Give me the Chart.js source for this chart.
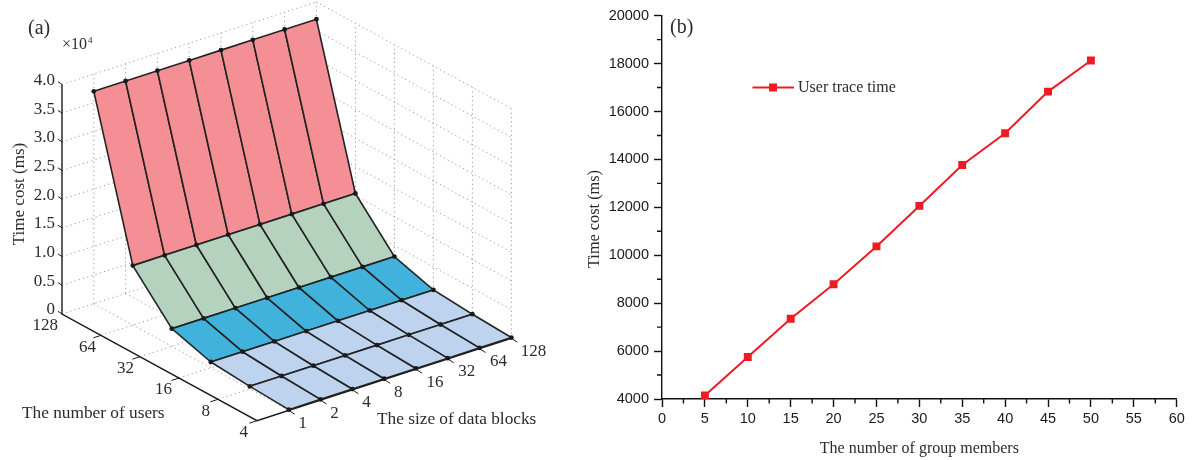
<!DOCTYPE html>
<html>
<head>
<meta charset="utf-8">
<title>Time cost</title>
<script src="https://cdn.jsdelivr.net/npm/chart.js@4"></script>
<style>
    html, body { margin: 0; padding: 0; background: #fff; overflow: hidden; }
    canvas { position: absolute; top: 0; }
    #chartA { left: 0; }
    #chartB { left: 580px; }
</style>
</head>
<body>
<canvas id="chartA" width="580" height="460"></canvas>
<canvas id="chartB" width="612" height="460"></canvas>
<script>
// Panel (a) : temps selon le nombre d'utilisateurs (la taille des blocs ne change rien)
const blockSizes = [1, 2, 4, 8, 16, 32, 64, 128];
const userCounts = [4, 8, 16, 32, 64, 128];
const surfaceTime = [120, 470, 990, 3080, 10350, 37000];
const zTicks = [0, 5000, 10000, 15000, 20000, 25000, 30000, 35000, 40000];
const zTickLabels = ['0', '0.5', '1.0', '1.5', '2.0', '2.5', '3.0', '3.5', '4.0'];
const rowColors = ['#BDD3EE', '#BDD3EE', '#41B2DC', '#B5D2BF', '#F48F95'];

// Panel (b)
const groupMembers = [5, 10, 15, 20, 25, 30, 35, 40, 45, 50];
const traceTime = [4150, 5750, 7350, 8790, 10370, 12060, 13770, 15090, 16830, 18130];

const SERIF = '"Liberation Serif", serif';
const SANS = '"Liberation Sans", sans-serif';
const TEXT_COLOR = '#2b2b2b';

// Projection oblique : b = rang de bloc (0 = coin de l'axe), k = rang depuis 128 utilisateurs
function project(b, k, z) {
    return {
        x: 62 + 31.8 * b + 39 * k,
        y: 314 - 10.3 * b + 21.33 * k - z * 57.4 / 10000
    };
}
const surfacePoint = (i, j) => project(i + 1, userCounts.length - 1 - j, surfaceTime[j]);

const nB = blockSizes.length;   // rangs 0..8 sur l'axe
const nK = userCounts.length - 1;
const zTop = zTicks[zTicks.length - 1];
const datasets = [];

function line(points, color, width, dash) {
    datasets.push({
        data: points, showLine: true, fill: false,
        borderColor: color, borderWidth: width, borderDash: dash || [],
        pointRadius: 0
    });
}

// Murs et sol en pointillés
const dotted = (p, q) => line([p, q], '#9a9a9a', 1, [1.2, 3.2]);
zTicks.forEach(z => {
    dotted(project(0, 0, z), project(nB, 0, z));
    dotted(project(nB, 0, z), project(nB, nK, z));
});
for (let b = 1; b <= nB; b++) {
    dotted(project(b, 0, 0), project(b, 0, zTop));
    dotted(project(b, 0, 0), project(b, nK, 0));
}
for (let k = 1; k <= nK; k++) {
    dotted(project(nB, k, 0), project(nB, k, zTop));
    dotted(project(0, k, 0), project(nB, k, 0));
}

// Axes et graduations
const axisColor = '#1a1a1a';
line([project(0, 0, zTop), project(0, 0, 0), project(0, nK, 0), project(nB, nK, 0)], axisColor, 1.4);
zTicks.forEach(z => {
    const p = project(0, 0, z);
    line([p, { x: p.x - 4, y: p.y - 2.7 }], axisColor, 1);
});
for (let k = 1; k <= nK; k++) {
    const p = project(0, k, 0);
    line([p, { x: p.x - 7.6, y: p.y + 2.5 }], axisColor, 1);
}
for (let b = 1; b <= nB; b++) {
    const p = project(b, nK, 0);
    line([p, { x: p.x + 6, y: p.y + 4 }], axisColor, 1);
}

// Surface, du fond vers l'avant
for (let j = userCounts.length - 2; j >= 0; j--) {
    for (let i = 0; i < nB - 1; i++) {
        const a = surfacePoint(i, j), b = surfacePoint(i + 1, j);
        const c = surfacePoint(i + 1, j + 1), d = surfacePoint(i, j + 1);
        datasets.push({
            data: [a, b, c, d, a], showLine: true, fill: 'shape',
            backgroundColor: rowColors[j],
            borderColor: '#222', borderWidth: 1.6, pointRadius: 0
        });
    }
}

// Noeuds
const nodes = [];
userCounts.forEach((u, j) => blockSizes.forEach((s, i) => nodes.push(surfacePoint(i, j))));
datasets.push({ data: nodes, showLine: false, pointRadius: 2.4, backgroundColor: '#1a1a1a', borderWidth: 0 });

function drawText(ctx, text, x, y, font, align, color) {
    ctx.save();
    ctx.font = font;
    ctx.fillStyle = color || TEXT_COLOR;
    ctx.textAlign = align || 'left';
    ctx.textBaseline = 'middle';
    ctx.fillText(text, x, y);
    ctx.restore();
}

function drawRotated(ctx, text, x, y, font) {
    ctx.save();
    ctx.translate(x, y);
    ctx.rotate(-Math.PI / 2);
    drawText(ctx, text, 0, 0, font, 'center');
    ctx.restore();
}

const labelsA = {
    id: 'labelsA',
    afterDraw(chart) {
        const ctx = chart.ctx;
        const sx = chart.scales.x, sy = chart.scales.y;
        const font = '17px ' + SERIF;
        zTicks.forEach((z, n) => {
            const p = project(0, 0, z);
            drawText(ctx, zTickLabels[n], sx.getPixelForValue(p.x) - 7, sy.getPixelForValue(p.y) - 4, font, 'right');
        });
        userCounts.forEach((u, j) => {
            const k = nK - j;
            const p = project(0, k, 0);
            drawText(ctx, String(u), sx.getPixelForValue(p.x) - 4 - k, sy.getPixelForValue(p.y) + 12, font, 'right');
        });
        blockSizes.forEach((s, i) => {
            const p = project(i + 1, nK, 0);
            const dx = [14, 19, 22][String(s).length - 1];
            drawText(ctx, String(s), sx.getPixelForValue(p.x) + dx, sy.getPixelForValue(p.y) + 13, font, 'center');
        });
        drawText(ctx, '(a)', 28, 29, '20px ' + SERIF);
        drawText(ctx, '×10', 62, 45, '16px ' + SERIF);
        drawText(ctx, '4', 88, 41, '9px ' + SERIF);
        drawRotated(ctx, 'Time cost (ms)', 20, 194, '17px ' + SERIF);
        drawText(ctx, 'The number of users', 22, 413, '17.3px ' + SERIF);
        drawText(ctx, 'The size of data blocks', 377, 419, '17.3px ' + SERIF);
    }
};

new Chart(document.getElementById('chartA').getContext('2d'), {
    type: 'scatter',
    data: { datasets: datasets.slice().reverse() },   // Chart.js dessine le premier dataset en dernier
    options: {
        responsive: false,
        animation: false,
        layout: { padding: 0, autoPadding: false },
        plugins: { legend: { display: false }, tooltip: { enabled: false } },
        scales: {
            x: { display: false, min: 0, max: 580 },
            y: { display: false, min: 0, max: 460, reverse: true }
        }
    },
    plugins: [labelsA]
});

const RED = '#ED1C24';

// Petites graduations + légende + textes de (b)
const decorB = {
    id: 'decorB',
    afterDraw(chart) {
        const ctx = chart.ctx;
        const sx = chart.scales.x, sy = chart.scales.y;
        ctx.save();
        ctx.strokeStyle = '#111';
        ctx.lineWidth = 1.4;
        ctx.beginPath();
        for (let v = 2.5; v < 60; v += 5) {
            const px = sx.getPixelForValue(v);
            ctx.moveTo(px, sy.bottom);
            ctx.lineTo(px, sy.bottom + 4.5);
        }
        for (let v = 5000; v < 20000; v += 2000) {
            const py = sy.getPixelForValue(v);
            ctx.moveTo(sx.left, py);
            ctx.lineTo(sx.left - 5, py);
        }
        ctx.stroke();

        // légende
        ctx.strokeStyle = RED;
        ctx.lineWidth = 1.8;
        ctx.beginPath();
        ctx.moveTo(172.5, 87.5);
        ctx.lineTo(214, 87.5);
        ctx.stroke();
        ctx.fillStyle = RED;
        ctx.fillRect(189, 83.5, 8, 8);
        ctx.restore();

        drawText(ctx, 'User trace time', 218, 88, '16px ' + SERIF);
        drawText(ctx, '(b)', 90, 28, '20px ' + SERIF);
        drawRotated(ctx, 'Time cost (ms)', 15, 219, '16.3px ' + SERIF);
    }
};

new Chart(document.getElementById('chartB').getContext('2d'), {
    type: 'line',
    data: {
        datasets: [{
            label: 'User trace time',
            data: groupMembers.map((m, i) => ({ x: m, y: traceTime[i] })),
            borderColor: RED,
            borderWidth: 2,
            backgroundColor: RED,
            pointStyle: 'rect',
            pointRadius: 5.6,
            pointBorderWidth: 0,
            fill: false,
            tension: 0
        }]
    },
    options: {
        responsive: false,
        animation: false,
        layout: { padding: { top: 15.7, right: 15.3, left: 0, bottom: 0 }, autoPadding: false },
        plugins: { legend: { display: false }, tooltip: { enabled: false } },
        scales: {
            x: {
                type: 'linear', min: 0, max: 60,
                afterFit: s => { s.height = 61; },
                border: { color: '#111', width: 1.4 },
                grid: { drawOnChartArea: false, tickLength: 8, tickColor: '#111', tickWidth: 1.4 },
                ticks: { stepSize: 5, padding: 3, maxRotation: 0, autoSkip: false, color: '#1a1a1a', font: { family: SANS, size: 14.5 } },
                title: { display: true, text: 'The number of group members', color: TEXT_COLOR, padding: { top: 4, bottom: 2 }, font: { family: SERIF, size: 16 } }
            },
            y: {
                min: 4000, max: 20000,
                afterFit: s => { s.width = 82; },
                border: { color: '#111', width: 1.4 },
                grid: { drawOnChartArea: false, tickLength: 8, tickColor: '#111', tickWidth: 1.4 },
                ticks: { stepSize: 2000, padding: 5, color: '#1a1a1a', font: { family: SANS, size: 14.5 }, callback: v => String(v) }
            }
        }
    },
    plugins: [decorB]
});
</script>
</body>
</html>
